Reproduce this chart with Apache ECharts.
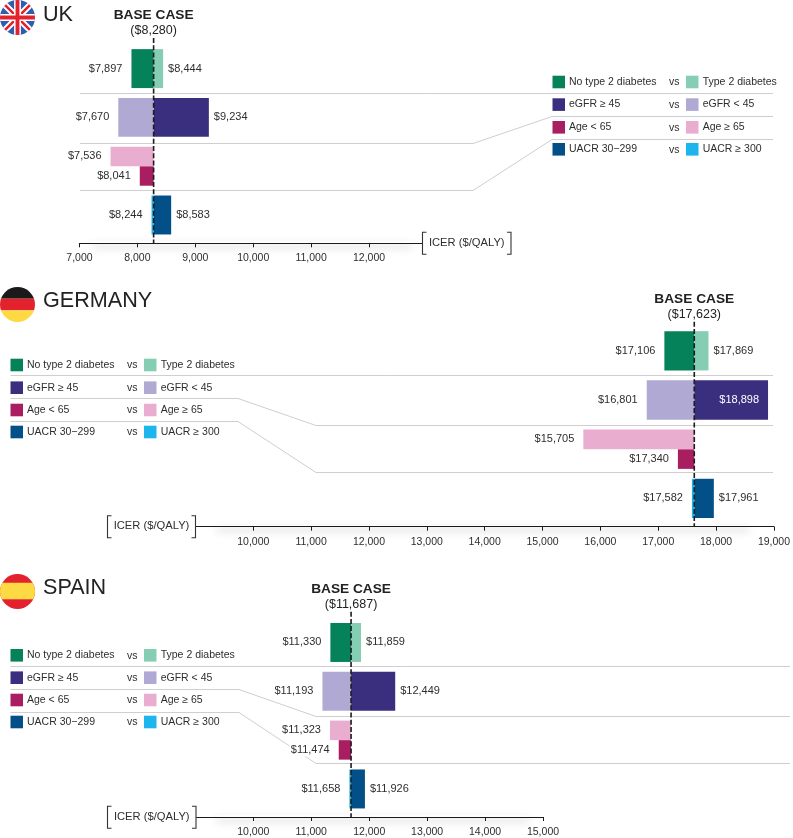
<!DOCTYPE html>
<html>
<head>
<meta charset="utf-8">
<style>html,body{margin:0;padding:0;background:#fff}#c{width:793px;height:838px}</style>
<script src="https://cdn.jsdelivr.net/npm/echarts@6/dist/echarts.min.js"></script>
</head>
<body>
<div id="c"></div>
<script>
// ---- data ----
const groupA = ['No type 2 diabetes', 'eGFR ≥ 45', 'Age < 65', 'UACR 30−299'];
const groupB = ['Type 2 diabetes', 'eGFR < 45', 'Age ≥ 65', 'UACR ≥ 300'];
const colorsA = ['#06825A', '#3A2E7E', '#A81E60', '#034F87'];
const colorsB = ['#86CEB3', '#B0A9D4', '#E9AECF', '#1CB5EC'];
const ukBase = 8280, ukA = [7897, 9234, 8041, 8583], ukB = [8444, 7670, 7536, 8244];
const deBase = 17623, deA = [17106, 18898, 17340, 17961], deB = [17869, 16801, 15705, 17582];
const esBase = 11687, esA = [11330, 12449, 11474, 11926], esB = [11859, 11193, 11323, 11658];
const ukTicks = [7000, 8000, 9000, 10000, 11000, 12000];
const deTicks = [10000, 11000, 12000, 13000, 14000, 15000, 16000, 17000, 18000, 19000];
const esTicks = [10000, 11000, 12000, 13000, 14000, 15000];
const axisTitle = 'ICER ($/QALY)';

// ---- layout ----
const FONT = '"Liberation Sans", Arial, sans-serif';
const TXT = '#2e2e2e', SEP = '#cfcfcf';
const panels = [
  { name: 'UK', base: ukBase, a: ukA, b: ukB, ticks: ukTicks, left: 79.5, right: 422, xmin: 7000, xmax: 12915,
    top: 38, axisY: 243.3, c0: 68.6, step: 48.8, tickMargin: 9,
    titleY: 15, flagY: 0, shadow: [92, 412],
    seps: [[[80, 93.5], [773, 93.5]], [[80, 143.5], [473, 143.5], [552, 116.5], [773, 116.5]], [[80, 190.5], [473, 190.5], [552, 139.5], [773, 139.5]]],
    leg: { x: 552.5, rows: [82, 104.6, 127.3, 149.3] },
    bracket: [422.5, 511] },
  { name: 'GERMANY', base: deBase, a: deA, b: deB, ticks: deTicks, left: 196.5, right: 774, xmin: 9019, xmax: 19000,
    top: 321.7, axisY: 526.7, c0: 350.8, step: 49.2, tickMargin: 10,
    titleY: 301.5, flagY: 287, shadow: [216, 750],
    seps: [[[10.5, 375.5], [773, 375.5]], [[10.5, 398.5], [238, 398.5], [316, 425.5], [773, 425.5]], [[10.5, 421.5], [238, 421.5], [316, 472.5], [773, 472.5]]],
    leg: { x: 10.5, rows: [365, 387.7, 410, 432] },
    bracket: [107.5, 195.5] },
  { name: 'SPAIN', base: esBase, a: esA, b: esB, ticks: esTicks, left: 196.5, right: 543, xmin: 9019, xmax: 15000,
    top: 611.7, axisY: 817.3, c0: 642.5, step: 48.9, tickMargin: 10,
    titleY: 588, flagY: 574, shadow: [216, 530],
    seps: [[[10.5, 666.5], [790, 666.5]], [[10.5, 689.5], [239, 689.5], [316, 716.5], [790, 716.5]], [[10.5, 712.5], [239, 712.5], [316, 763.5], [790, 763.5]]],
    leg: { x: 10.5, rows: [655.3, 677.7, 700, 722] },
    bracket: [107.5, 196] }
];

const flagSvg = {
  UK: '<rect width="36" height="36" fill="#2C5FB0"/><path d="M0 0L36 36M36 0L0 36" stroke="#fff" stroke-width="6.5"/><path d="M0 0L36 36M36 0L0 36" stroke="#E3222E" stroke-width="2.6"/><path d="M18 0V36M0 18H36" stroke="#fff" stroke-width="7"/><path d="M18 0V36M0 18H36" stroke="#E3222E" stroke-width="4"/>',
  GERMANY: '<rect width="36" height="12" fill="#1A1A1A"/><rect y="12" width="36" height="12" fill="#E3222E"/><rect y="24" width="36" height="12" fill="#FDD944"/>',
  SPAIN: '<rect width="36" height="36" fill="#E3222E"/><rect y="9" width="36" height="17" fill="#FDD944"/>'
};
function flagUrl(n) {
  return 'data:image/svg+xml;charset=utf-8,' + encodeURIComponent(
    '<svg xmlns="http://www.w3.org/2000/svg" width="36" height="36" viewBox="0 0 36 36"><defs><clipPath id="k"><circle cx="18" cy="18" r="18"/></clipPath></defs><g clip-path="url(#k)">' + flagSvg[n] + '</g></svg>');
}
const money = v => '$' + v.toLocaleString('en-US');

function renderBar(p) {
  return function (params, api) {
    const val = api.value(0), row = api.value(1), side = api.value(2);
    const split = row === 2;
    const lane = split ? (side === 0 ? 0.2 : -0.2) : 0;
    const h = split ? 0.4 : 0.798;
    const yc = row + lane;
    const pBase = api.coord([p.base, yc]);
    const pVal = api.coord([val, yc]);
    const pxH = Math.abs(api.size([0, h])[1]);
    const color = (side === 0 ? colorsA : colorsB)[row];
    const x0 = Math.min(pBase[0], pVal[0]), x1 = Math.max(pBase[0], pVal[0]);
    const isRight = pVal[0] >= pBase[0];
    const inside = isRight && pVal[0] > p.right - 40;
    const style = { text: money(val), fill: inside ? '#fff' : TXT, font: '11px ' + FONT, y: pVal[1], verticalAlign: 'middle' };
    if (inside) { style.x = pVal[0] - 9; style.align = 'right'; }
    else if (isRight) { style.x = pVal[0] + 5; style.align = 'left'; }
    else { style.x = pVal[0] - 8; style.align = 'right'; style.backgroundColor = '#fff'; style.padding = [1, 1]; }
    return {
      type: 'group',
      children: [
        { type: 'rect', shape: { x: x0, y: pVal[1] - pxH / 2, width: x1 - x0, height: pxH }, style: { fill: color } },
        { type: 'text', z2: 5, style: style }
      ]
    };
  };
}

function renderBase(p, ymin, ymax) {
  return function (params, api) {
    const a = api.coord([api.value(0), ymin]), b = api.coord([api.value(0), ymax]);
    return {
      type: 'group',
      children: [
        { type: 'line', shape: { x1: a[0], y1: a[1], x2: b[0], y2: b[1] }, style: { stroke: '#1c1c1c', lineWidth: 1.6, lineDash: [5, 2.2] } },
        { type: 'text', style: { text: 'BASE CASE', x: a[0], y: a[1] - 22.5, align: 'center', verticalAlign: 'middle', fill: '#222', font: 'bold 13.7px ' + FONT } },
        { type: 'text', style: { text: '(' + money(api.value(0)) + ')', x: a[0], y: a[1] - 7.5, align: 'center', verticalAlign: 'middle', fill: '#222', font: '12.5px ' + FONT } }
      ]
    };
  };
}

const grids = [], xAxes = [], yAxes = [], series = [], graphics = [];
panels.forEach(function (p, i) {
  const ymin = (p.top - p.c0) / p.step, ymax = (p.axisY - p.c0) / p.step;
  grids.push({ left: p.left, width: p.right - p.left, top: p.top, height: p.axisY - p.top, containLabel: false });
  xAxes.push({
    type: 'value', gridIndex: i, min: p.xmin, max: p.xmax, splitLine: { show: false },
    axisLine: { show: true, onZero: false, lineStyle: { color: '#1a1a1a', width: 1.2 } },
    axisTick: { show: true, length: 4, inside: false, customValues: p.ticks, lineStyle: { color: '#1a1a1a', width: 1 } },
    axisLabel: { show: true, margin: p.tickMargin, customValues: p.ticks, color: TXT, fontSize: 10.5, fontFamily: FONT,
      hideOverlap: false, formatter: v => v.toLocaleString('en-US') }
  });
  yAxes.push({ type: 'value', gridIndex: i, show: false, inverse: true, min: ymin, max: ymax });
  const data = [];
  p.a.forEach((v, r) => data.push([v, r, 0]));
  p.b.forEach((v, r) => data.push([v, r, 1]));
  series.push({ type: 'custom', xAxisIndex: i, yAxisIndex: i, z: 3, clip: false, silent: true, renderItem: renderBar(p), data: data, encode: { x: 0, y: 1 } });
  series.push({ type: 'custom', xAxisIndex: i, yAxisIndex: i, z: 4, clip: false, silent: true, renderItem: renderBase(p, ymin, ymax), data: [[p.base, 0]], encode: { x: 0, y: 1 } });

  // soft shadow under the axis
  graphics.push({ type: 'rect', z: -1, silent: true, shape: { x: p.shadow[0], y: p.axisY - 2, width: p.shadow[1] - p.shadow[0], height: 2 },
    style: { fill: '#fff', shadowColor: 'rgba(0,0,0,0.28)', shadowBlur: 9, shadowOffsetY: 4 } });
  // flag and title
  graphics.push({ type: 'image', z: 1, silent: true, style: { image: flagUrl(p.name), x: 0, y: p.flagY, width: 35, height: 35 } });
  graphics.push({ type: 'text', z: 1, silent: true, style: { text: p.name, x: 43, y: p.titleY, verticalAlign: 'middle', fill: '#222', font: '21.6px ' + FONT } });
  // separators
  p.seps.forEach(function (pts) {
    graphics.push({ type: 'polyline', z: 0, silent: true, shape: { points: pts }, style: { stroke: SEP, lineWidth: 1, fill: null } });
  });
  // legend
  p.leg.rows.forEach(function (y, r) {
    const x = p.leg.x;
    graphics.push({ type: 'rect', z: 1, silent: true, shape: { x: x, y: y - 6.3, width: 12.5, height: 12.6 }, style: { fill: colorsA[r] } });
    graphics.push({ type: 'text', z: 1, silent: true, style: { text: groupA[r], x: x + 16.5, y: y, verticalAlign: 'middle', fill: TXT, font: '10.5px ' + FONT } });
    graphics.push({ type: 'text', z: 1, silent: true, style: { text: 'vs', x: x + 116.5, y: y + 0.5, verticalAlign: 'middle', fill: TXT, font: '10.5px ' + FONT } });
    graphics.push({ type: 'rect', z: 1, silent: true, shape: { x: x + 133.5, y: y - 6.3, width: 12.5, height: 12.6 }, style: { fill: colorsB[r] } });
    graphics.push({ type: 'text', z: 1, silent: true, style: { text: groupB[r], x: x + 150.2, y: y, verticalAlign: 'middle', fill: TXT, font: '10.5px ' + FONT } });
  });
  // axis title bracket
  const bl = p.bracket[0], br = p.bracket[1], ay = p.axisY;
  const bs = { stroke: '#333', lineWidth: 1.1, fill: null };
  graphics.push({ type: 'polyline', z: 1, silent: true, shape: { points: [[bl + 4, ay - 11], [bl, ay - 11], [bl, ay + 11], [bl + 4, ay + 11]] }, style: bs });
  graphics.push({ type: 'polyline', z: 1, silent: true, shape: { points: [[br - 4, ay - 11], [br, ay - 11], [br, ay + 11], [br - 4, ay + 11]] }, style: bs });
  graphics.push({ type: 'text', z: 1, silent: true, style: { text: axisTitle, x: (bl + br) / 2, y: ay - 0.5, align: 'center', verticalAlign: 'middle', fill: TXT, font: '11.2px ' + FONT } });
});

const chart = echarts.init(document.getElementById('c'), null, { renderer: 'canvas' });
chart.setOption({
  animation: false,
  backgroundColor: '#fff',
  tooltip: { show: false },
  legend: { show: false },
  grid: grids, xAxis: xAxes, yAxis: yAxes, series: series,
  graphic: { elements: graphics }
});
</script>
</body>
</html>
